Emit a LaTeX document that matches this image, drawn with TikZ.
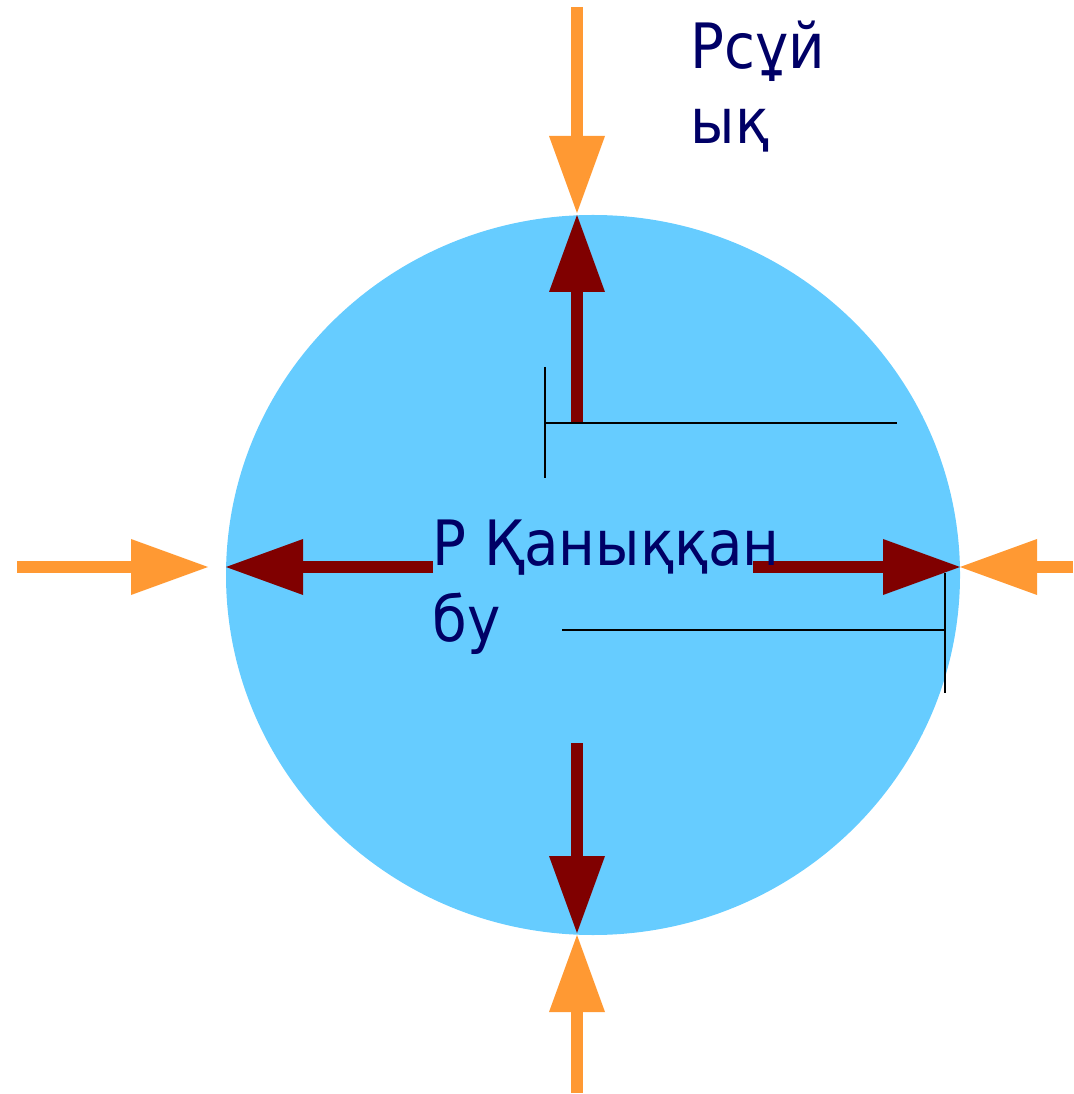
\documentclass[tikz,border=0pt]{standalone}
\usepackage{fontspec}
\setmainfont{DejaVu Sans Condensed}
\usepackage{tikz}
\usetikzlibrary{arrows.meta}
\definecolor{dropcolor}{HTML}{66CCFF}
\definecolor{vapourcolor}{HTML}{800000}
\definecolor{outercolor}{HTML}{FF9933}
\definecolor{labelcolor}{HTML}{000066}

\begin{document}
\begin{tikzpicture}[
        x=0.1mm,
        y=-0.1mm,
        inarrow/.style={-{Triangle[length=7.7mm, width=5.6mm, line width=0pt]}, line width=1.2mm, outercolor},
        outarrow/.style={-{Triangle[length=7.7mm, width=5.6mm, line width=0pt]}, line width=1.2mm, vapourcolor},
        guideline/.style={black, line width=0.45pt},
        plabel/.style={labelcolor, inner sep=0pt, align=left, font=\fontsize{17.8}{21.5}\selectfont}
    ]
        \useasboundingbox (0,0) rectangle (1073,1094);

        \fill[dropcolor] (593,575) ellipse [x radius=367, y radius=360];

        \coordinate (topout) at (577,7);
        \coordinate (topmeet) at (577,213);
        \coordinate (topin) at (577,423);
        \coordinate (toprim) at (577,215);
        \coordinate (leftout) at (17,567);
        \coordinate (leftmeet) at (208,567);
        \coordinate (leftin) at (433,567);
        \coordinate (leftrim) at (226,567);
        \coordinate (rightin) at (753,567);
        \coordinate (rightrim) at (960,567);
        \coordinate (rightout) at (1073,567);
        \coordinate (bottomin) at (577,743);
        \coordinate (bottomrim) at (577,933);
        \coordinate (bottomout) at (577,1093);
        \coordinate (bottommeet) at (577,935);

        \draw[inarrow] (topout) -- (topmeet);
        \draw[inarrow] (leftout) -- (leftmeet);
        \draw[inarrow] (rightout) -- (rightrim);
        \draw[inarrow] (bottomout) -- (bottommeet);

        \draw[outarrow] (topin) -- (toprim);
        \draw[outarrow] (leftin) -- (leftrim);
        \draw[outarrow] (rightin) -- (rightrim);
        \draw[outarrow] (bottomin) -- (bottomrim);

        \draw[guideline] (545,367) -- (545,478);
        \draw[guideline] (545,423) -- (897,423);
        \draw[guideline] (945,573) -- (945,693);
        \draw[guideline] (562,630) -- (945,630);

        \node[plabel, anchor=base west] (liquidname) at (690,144) {Рсұй\\ық};
        \node[plabel, anchor=base west] (steamname) at (432,641) {Р Қаныққан\\бу};
    \end{tikzpicture}
\end{document}
